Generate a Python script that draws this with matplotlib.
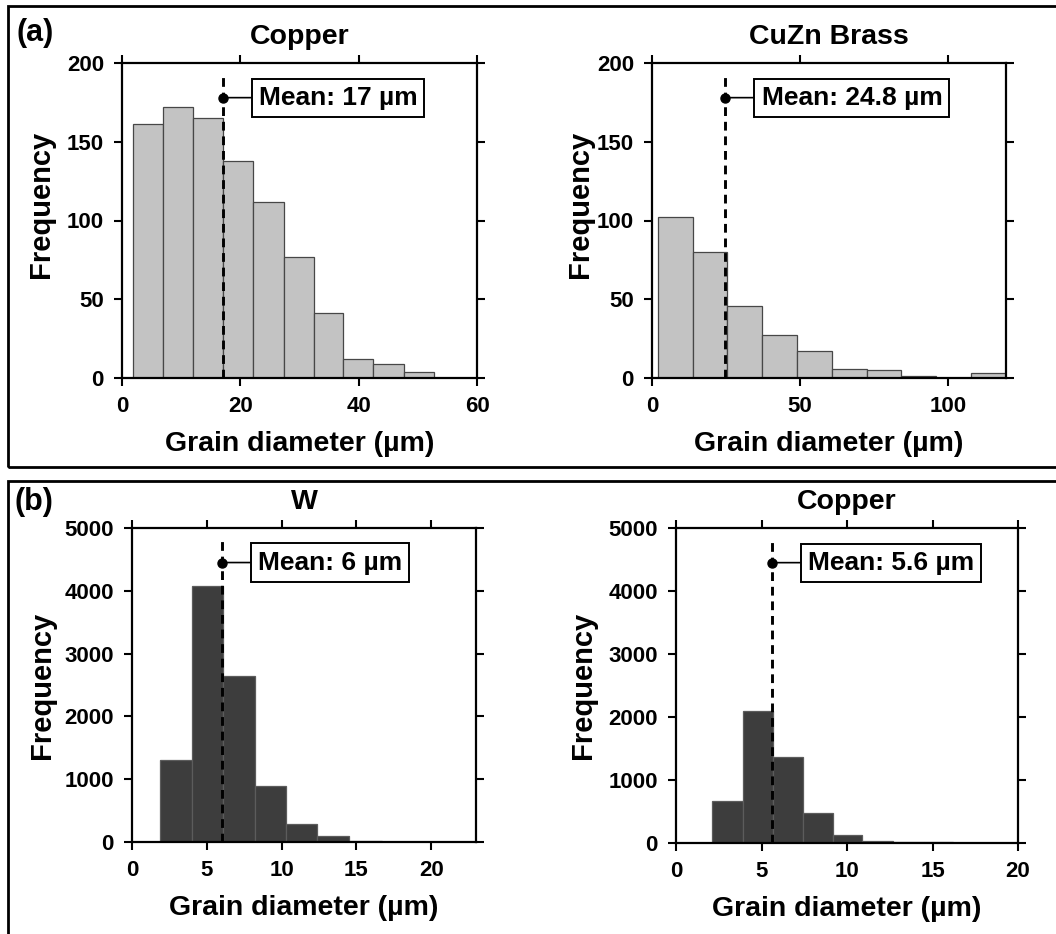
import matplotlib
matplotlib.use("Agg")
import matplotlib.pyplot as plt
from matplotlib.patches import Rectangle
import numpy as np

# histogram data (bin edges in um, counts per bin)
cu_a_edges = [1.9, 7.0, 12.0, 17.1, 22.2, 27.3, 32.4, 37.4, 42.5, 47.6, 52.7]
cu_a_counts = [161, 172, 165, 138, 112, 77, 41, 12, 9, 4]
cu_a_mean = 17

brass_edges = [1.9, 13.7, 25.4, 37.2, 48.9, 60.7, 72.5, 84.2, 96.0, 107.8, 119.5]
brass_counts = [102, 80, 46, 27, 17, 6, 5, 1, 0, 3]
brass_mean = 24.8

w_edges = [1.9, 4.0, 6.1, 8.2, 10.3, 12.4, 14.5, 16.7, 18.8, 20.9, 23.0]
w_counts = [1311, 4071, 2649, 897, 292, 96, 20, 6, 3, 1]
w_mean = 6

cu_b_edges = [2.1, 3.9, 5.7, 7.4, 9.2, 10.9, 12.7, 14.5, 16.2, 18.0, 19.7]
cu_b_counts = [668, 2100, 1368, 477, 127, 37, 16, 8, 3, 2]
cu_b_mean = 5.6

plt.rcParams['font.family'] = ['Liberation Sans', 'DejaVu Sans']
plt.rcParams['font.weight'] = 'bold'

W, H = 1056, 934
fig = plt.figure(figsize=(W / 100, H / 100), dpi=100)


def px_axes(x0, x1, top, bottom):
    return fig.add_axes([x0 / W, 1 - bottom / H, (x1 - x0) / W, (bottom - top) / H])


def hist_panel(ax, edges, counts, mean, title, xlim, xticks, ylim, yticks,
               face, edge, ylab_pos):
    edges = np.array(edges)
    ax.bar(edges[:-1], counts, width=np.diff(edges), align='edge',
           color=face, edgecolor=edge, linewidth=0.9, zorder=2)
    ymax = ylim[1]
    ax.plot([mean, mean], [0, 0.97 * ymax], color='k', lw=2.1,
            dashes=(3, 2), zorder=3)
    ydot = 0.89 * ymax
    ax.plot(mean, ydot, 'o', color='k', ms=6.5, zorder=4)
    ax.annotate(f'Mean: {mean} µm', xy=(mean, ydot), xytext=(26, 0),
                textcoords='offset points', ha='left', va='center',
                fontsize=19, fontweight='bold', zorder=5,
                bbox=dict(boxstyle='square,pad=0.27', fc='white', ec='k', lw=1.4),
                arrowprops=dict(arrowstyle='-', color='k', lw=1.2,
                                shrinkA=0, shrinkB=0))
    ax.set_xlim(xlim)
    ax.set_ylim(ylim)
    ax.set_xticks(xticks)
    ax.set_yticks(yticks)
    ax.tick_params(direction='out', top=True, right=True, length=6, width=1.5,
                   labelsize=16, pad=7)
    for s in ax.spines.values():
        s.set_linewidth(1.6)
    ax.set_title(title, fontsize=20.5, fontweight='bold', pad=14)
    ax.set_xlabel('Grain diameter (µm)', fontsize=20.5, fontweight='bold', labelpad=10)
    ax.set_ylabel('Frequency', fontsize=21, fontweight='bold')
    ax.yaxis.set_label_coords(*ylab_pos)


light = '#c3c3c3'
light_edge = '#474747'
dark = '#3d3d3d'
dark_edge = '#5c5c5c'

ax1 = px_axes(122, 477, 63, 378)
hist_panel(ax1, cu_a_edges, cu_a_counts, cu_a_mean, 'Copper', (0, 60), [0, 20, 40, 60],
           (0, 200), [0, 50, 100, 150, 200], light, light_edge, (-0.19, 0.55))

ax2 = px_axes(652, 1006, 63, 378)
hist_panel(ax2, brass_edges, brass_counts, brass_mean, 'CuZn Brass', (0, 119.5), [0, 50, 100],
           (0, 200), [0, 50, 100, 150, 200], light, light_edge, (-0.165, 0.55))

ax3 = px_axes(132, 476, 528, 842)
hist_panel(ax3, w_edges, w_counts, w_mean, 'W', (0, 23), [0, 5, 10, 15, 20],
           (0, 5000), [0, 1000, 2000, 3000, 4000, 5000], dark, dark_edge, (-0.22, 0.5))

ax4 = px_axes(676, 1018, 528, 843)
hist_panel(ax4, cu_b_edges, cu_b_counts, cu_b_mean, 'Copper', (0, 20), [0, 5, 10, 15, 20],
           (0, 5000), [0, 1000, 2000, 3000, 4000, 5000], dark, dark_edge, (-0.23, 0.5))

# panel frames, they run past the right / bottom edge of the image
fig.patches.append(Rectangle((8 / W, 1 - 467 / H), 1.0, (467 - 6) / H,
                             transform=fig.transFigure, fill=False, lw=2, ec='k'))
fig.patches.append(Rectangle((8 / W, -0.05), 1.0, 0.05 + 1 - 481 / H,
                             transform=fig.transFigure, fill=False, lw=2, ec='k'))

fig.text(17 / W, 1 - 33 / H, '(a)', fontsize=22, fontweight='bold', va='center', ha='left')
fig.text(15 / W, 1 - 502 / H, '(b)', fontsize=22, fontweight='bold', va='center', ha='left')

fig.savefig('out.png', dpi=100)
